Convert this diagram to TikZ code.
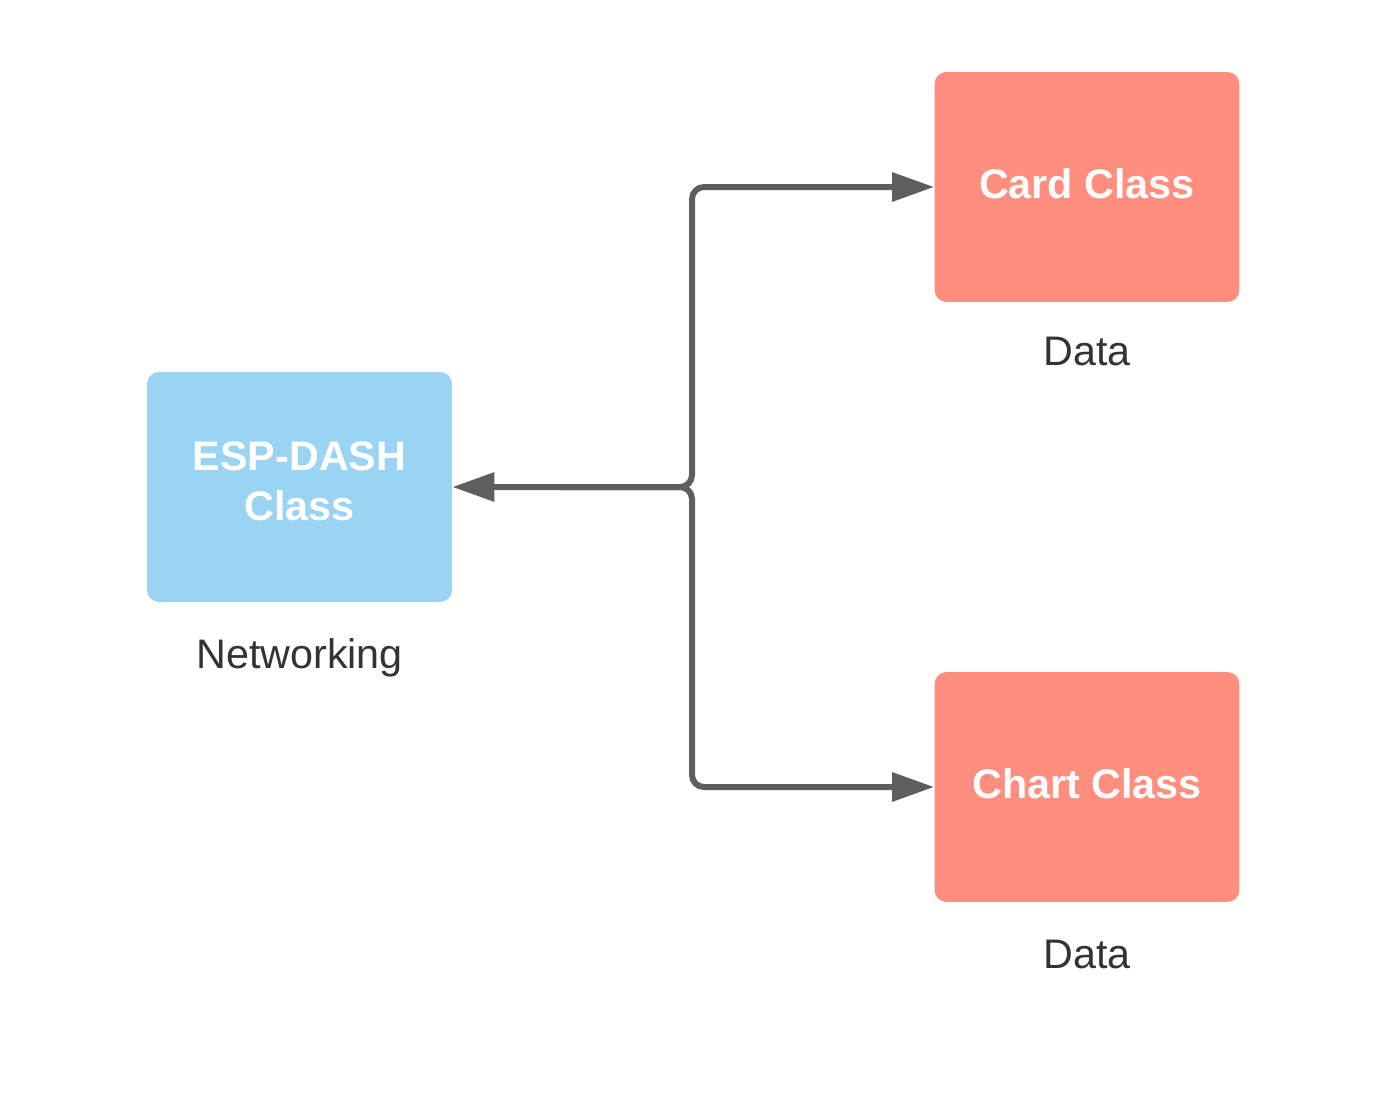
\documentclass[tikz,border=0pt]{standalone}
\usepackage{fontspec}
\setmainfont{Liberation Sans}
\usetikzlibrary{arrows.meta}

\definecolor{espblue}{HTML}{9BD3F2}
\definecolor{classred}{HTML}{FF8E7F}
\definecolor{linkgray}{HTML}{5E5E5E}
\definecolor{labelgray}{HTML}{333333}

\begin{document}
\begin{tikzpicture}[x=0.02cm, y=-0.02cm,
    classbox/.style={rounded corners=0.24cm, minimum width=6.1cm, minimum height=4.6cm,
      align=center, text=white, inner sep=0pt, text depth=0.12cm,
      font=\fontsize{23.5}{28.5}\selectfont\bfseries},
    caption/.style={text=labelgray, anchor=base, font=\fontsize{23.5}{28.5}\selectfont},
    link/.style={linkgray, line width=0.12cm, rounded corners=0.24cm,
      -{Triangle[length=0.84cm, width=0.56cm]}}]

  \useasboundingbox (0,0) rectangle (1388,1093);

  % Klassen
  \node[classbox, fill=espblue, text depth=0.24cm] (esp) at (299.5,487) {ESP-DASH\\Class};
  \node[classbox, fill=classred] (card) at (1087,187) {Card Class};
  \node[classbox, fill=classred] (chart) at (1087,787) {Chart Class};

  % Beschriftungen
  \node[caption] (netlabel) at (299.5,668) {Networking};
  \node[caption] (cardlabel) at (1087,365) {Data};
  \node[caption] (chartlabel) at (1087,968) {Data};

  % Verbindungen
  \coordinate (split) at (692,487);
  \coordinate (mid) at (560,487);
  \draw[link, {Triangle[length=0.84cm, width=0.56cm]}-{Triangle[length=0.84cm, width=0.56cm]}]
    (esp.east) -- (split) |- (card.west);
  \draw[link] (mid) -- (split) |- (chart.west);

\end{tikzpicture}
\end{document}
